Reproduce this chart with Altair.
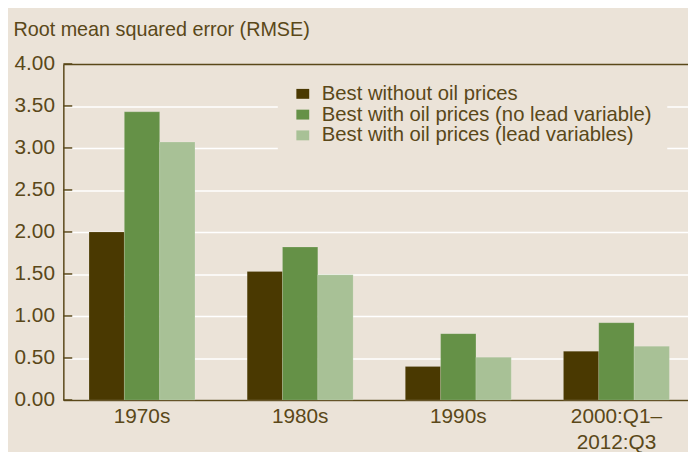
import altair as alt
import pandas as pd

periods = ["1970s", "1980s", "1990s", "2000:Q1–\n2012:Q3"]
series = [
    "Best without oil prices",
    "Best with oil prices (no lead variable)",
    "Best with oil prices (lead variables)",
]
without_oil = [2.00, 1.53, 0.40, 0.58]
with_oil_no_lead = [3.43, 1.82, 0.79, 0.92]
with_oil_lead = [3.07, 1.49, 0.51, 0.64]
y_ticks = [0.0, 0.5, 1.0, 1.5, 2.0, 2.5, 3.0, 3.5, 4.0]

colors = ["#4A3901", "#659147", "#A8C196"]
BG = "#EBE3D8"
INK = "#5A4819"
FONT = "Liberation Sans"

rows = []
for name, vals in zip(series, [without_oil, with_oil_no_lead, with_oil_lead]):
    for p, v in zip(periods, vals):
        rows.append({"period": p, "series": name, "rmse": v})
df = pd.DataFrame(rows)
ticks_df = pd.DataFrame({"tick": y_ticks})

bars = alt.Chart(df).mark_bar(stroke="#ffffff", strokeOpacity=0.15, strokeWidth=1).encode(
    x=alt.X(
        "period:N",
        sort=periods,
        scale=alt.Scale(paddingInner=0.33, paddingOuter=0.14, align=0.58),
        axis=alt.Axis(
            title=None,
            labelAngle=0,
            ticks=False,
            tickSize=0,
            labelPadding=6,
            labelFontSize=21,
            labelColor=INK,
            labelFont=FONT,
            labelLineHeight=26,
            labelExpr="split(datum.label, '\\n')",
            domainColor=INK,
            domainWidth=1.5,
            grid=False,
        ),
    ),
    xOffset=alt.XOffset("series:N", sort=series, scale=alt.Scale(paddingInner=0, paddingOuter=0)),
    y=alt.Y(
        "rmse:Q",
        scale=alt.Scale(domain=[y_ticks[0], y_ticks[-1]], nice=False),
        axis=alt.Axis(
            title="Root mean squared error (RMSE)",
            titleAngle=0,
            titleAlign="left",
            titleBaseline="alphabetic",
            titleX=-51,
            titleY=-29,
            titleFontSize=20,
            titleFontWeight="normal",
            titleColor=INK,
            titleFont=FONT,
            values=y_ticks,
            format=".2f",
            labelFontSize=21,
            labelColor=INK,
            labelFont=FONT,
            labelPadding=9,
            ticks=False,
            tickSize=0,
            domainColor=INK,
            domainWidth=1.5,
            grid=True,
            gridColor=alt.condition("datum.value == 4", alt.value(INK), alt.value("#FFFFFF")),
            gridWidth=1.5,
        ),
    ),
    color=alt.Color(
        "series:N",
        sort=series,
        scale=alt.Scale(domain=series, range=colors),
        legend=alt.Legend(
            title=None,
            orient="none",
            legendX=217,
            legendY=5,
            padding=15,
            fillColor=BG,
            symbolType="M-1,-0.77H1V0.77H-1Z",
            symbolSize=169,
            symbolStrokeWidth=0,
            labelFontSize=20.5,
            labelColor=INK,
            labelFont=FONT,
            labelOffset=9,
            labelLimit=0,
            rowPadding=-1.3,
        ),
    ),
)

tick_marks = alt.Chart(ticks_df).mark_rule(color=INK, strokeWidth=1.5).encode(
    y=alt.Y("tick:Q"),
    x=alt.value(0),
    x2=alt.value(9),
)

chart = (
    alt.layer(bars, tick_marks)
    .properties(
        width=632,
        height=340,
        background=BG,
        padding={"left": 56, "top": 54, "right": 0, "bottom": 50},
        autosize=alt.AutoSizeParams(type="none"),
    )
    .configure_view(stroke=None)
)

chart.save("out.html", embed_options={"renderer": "svg", "actions": False})
